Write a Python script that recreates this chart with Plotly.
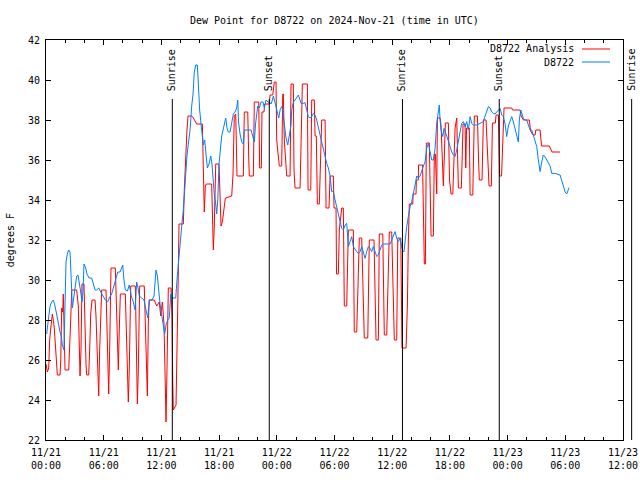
import pandas as pd
import plotly.graph_objects as go

START = pd.Timestamp("2024-11-21 00:00")
END = pd.Timestamp("2024-11-23 12:00")

# ---- data: hours since 2024-11-21 00:00 UTC, dew point in degrees F ----
analysis_hours = [
    0.00, 0.14, 0.28, 0.38, 0.52, 0.66, 0.76, 0.86, 0.97, 1.07, 1.18, 1.46, 1.53, 1.63, 1.74, 1.80,
    1.87, 1.98, 2.36, 2.47, 2.57, 2.67, 3.19, 3.36, 3.46, 3.54, 3.64, 3.74, 3.95, 4.06, 4.16, 4.23,
    4.44, 4.54, 4.65, 4.78, 5.10, 5.20, 5.30, 5.41, 5.48, 5.58, 5.72, 5.79, 6.24, 6.34, 6.45, 6.52,
    6.62, 6.76, 7.21, 7.31, 7.42, 7.52, 7.62, 7.73, 8.25, 8.39, 8.56, 8.66, 8.81, 9.29, 9.39, 9.50,
    9.60, 9.74, 10.22, 10.37, 10.47, 10.54, 10.64, 10.74, 11.26, 11.51, 11.78, 11.93, 12.10, 12.27, 12.38, 12.48,
    12.58, 12.72, 13.00, 13.10, 13.18, 13.24, 13.52, 13.62, 13.73, 13.83, 14.28, 14.38, 14.53, 14.66, 14.77, 15.15,
    15.32, 15.50, 15.67, 16.26, 16.36, 16.46, 16.57, 16.67, 17.23, 17.30, 17.40, 17.50, 17.65, 17.99, 18.10, 18.20,
    18.34, 18.48, 18.65, 19.31, 19.45, 19.58, 19.73, 19.86, 20.52, 20.62, 20.98, 21.08, 21.14, 21.56, 21.66, 22.12,
    22.22, 22.39, 22.46, 22.67, 22.74, 23.22, 23.30, 23.58, 23.74, 23.92, 23.99, 24.26, 24.51, 24.62, 24.68, 24.78,
    25.03, 25.38, 25.48, 25.72, 25.79, 25.90, 26.42, 26.66, 27.18, 27.25, 27.53, 27.63, 27.90, 27.98, 28.11, 28.22,
    28.42, 28.67, 29.02, 29.12, 29.43, 29.54, 29.88, 29.95, 30.16, 30.21, 30.40, 30.50, 30.75, 30.92, 31.02, 31.27,
    31.44, 31.96, 32.06, 32.31, 32.58, 32.83, 33.10, 33.46, 33.62, 34.11, 34.32, 34.56, 34.66, 35.02, 35.18, 35.43,
    35.70, 35.95, 36.22, 36.47, 36.58, 36.89, 37.02, 37.44, 37.58, 37.68, 37.78, 38.14, 38.17, 38.48, 38.51, 38.72,
    38.74, 39.16, 39.24, 39.34, 39.45, 39.55, 39.86, 39.94, 40.04, 40.28, 40.38, 40.49, 40.56, 40.63, 40.70, 40.98,
    41.08, 41.26, 41.32, 41.53, 41.84, 41.96, 42.12, 42.30, 42.54, 42.71, 42.80, 42.88, 43.19, 43.37, 43.58, 43.65,
    43.73, 44.02, 44.10, 44.38, 44.54, 44.86, 44.98, 45.06, 45.34, 45.48, 45.76, 45.92, 46.07, 46.31, 46.42, 46.73,
    46.80, 47.04, 47.16, 47.37, 47.48, 47.63, 48.43, 48.52, 49.30, 49.40, 49.64, 50.26, 50.39, 50.65, 50.86, 50.93,
    51.38, 51.53, 52.34, 52.52, 52.62, 53.46,
]
analysis_values = [
    25.8, 25.4, 25.6, 27.0, 27.7, 28.3, 28.0, 27.6, 26.8, 25.8, 25.25, 25.25, 25.9, 28.6, 28.4, 29.3,
    26.8, 25.5, 25.5, 26.5, 28.0, 29.5, 29.5, 28.7, 25.8, 25.2, 26.5, 29.8, 29.8, 27.0, 25.8, 25.25,
    25.25, 26.5, 28.3, 29.0, 29.0, 28.2, 26.5, 24.8, 24.2, 26.5, 28.2, 29.5, 29.5, 27.0, 25.0, 24.3,
    26.5, 30.6, 30.6, 28.5, 26.8, 25.5, 27.5, 29.3, 29.3, 27.0, 23.9, 25.5, 29.7, 29.7, 26.0, 23.8,
    25.5, 29.7, 29.7, 27.0, 25.2, 24.2, 27.8, 29.0, 29.0, 28.7, 28.9, 28.2, 28.9, 27.8, 25.3, 22.9,
    25.5, 29.6, 29.6, 28.2, 25.0, 23.5, 23.75, 26.0, 29.5, 32.8, 32.8, 34.5, 36.5, 37.5, 38.2, 38.2,
    38.1, 37.9, 37.8, 37.8, 34.8, 33.4, 34.7, 34.8, 34.8, 33.3, 31.5, 32.7, 35.8, 35.8, 34.0, 32.7,
    32.9, 33.5, 34.1, 34.2, 35.3, 38.2, 38.3, 35.2, 35.2, 38.4, 38.4, 36.1, 35.2, 35.2, 38.9, 38.9,
    35.6, 35.6, 38.4, 38.4, 38.8, 38.8, 39.25, 39.25, 39.9, 39.9, 37.0, 35.7, 35.7, 39.3, 39.3, 37.0,
    35.2, 35.2, 39.8, 39.8, 35.5, 34.6, 34.6, 39.8, 39.8, 34.5, 34.5, 39.0, 39.0, 37.2, 37.2, 33.8,
    33.8, 38.0, 38.0, 33.6, 33.6, 35.2, 35.2, 33.6, 33.6, 30.3, 30.3, 32.5, 33.6, 33.6, 28.7, 28.7,
    32.5, 32.5, 27.4, 27.4, 32.1, 32.1, 27.1, 27.1, 32.0, 32.0, 27.0, 27.0, 32.3, 32.3, 27.25, 27.25,
    32.4, 32.4, 27.0, 27.0, 32.1, 32.1, 26.6, 26.6, 28.7, 32.0, 33.8, 33.8, 34.3, 34.3, 35.0, 35.0,
    35.75, 35.75, 33.3, 30.8, 30.8, 36.85, 36.85, 35.0, 32.2, 32.2, 36.3, 36.3, 34.3, 34.3, 38.1, 38.1,
    37.7, 34.7, 34.7, 37.85, 37.85, 35.0, 34.3, 34.3, 37.6, 38.1, 35.0, 34.6, 34.6, 37.8, 37.8, 35.6,
    37.6, 37.6, 34.25, 34.25, 38.2, 38.2, 36.0, 35.0, 35.0, 38.0, 38.0, 36.0, 34.7, 34.7, 37.85, 37.85,
    38.25, 38.25, 35.2, 35.2, 37.0, 38.6, 38.6, 38.5, 38.5, 38.2, 38.0, 38.0, 37.45, 37.25, 37.25, 37.5,
    37.5, 36.7, 36.7, 36.5, 36.4, 36.4,
]

station_hours = [
    0.07, 0.24, 0.42, 0.59, 0.76, 0.94, 1.11, 1.28, 1.46, 1.59, 1.70, 1.87, 1.98, 2.08, 2.22, 2.36,
    2.50, 2.60, 2.67, 2.74, 2.84, 3.02, 3.19, 3.33, 3.46, 3.61, 3.74, 3.85, 3.95, 4.13, 4.26, 4.47,
    4.75, 4.92, 5.10, 5.27, 5.48, 5.69, 5.90, 6.17, 6.42, 6.58, 6.83, 7.07, 7.28, 7.46, 7.70, 7.98,
    8.11, 8.25, 8.46, 8.66, 8.87, 9.08, 9.26, 9.43, 9.57, 9.70, 9.95, 10.19, 10.40, 10.58, 10.74, 11.02,
    11.23, 11.34, 11.44, 11.58, 11.72, 11.86, 12.03, 12.20, 12.34, 12.48, 12.66, 12.82, 12.97, 13.14, 13.49, 13.62,
    13.76, 13.94, 14.11, 14.28, 14.42, 14.53, 14.66, 14.80, 14.98, 15.15, 15.29, 15.42, 15.57, 15.74, 15.84, 15.98,
    16.12, 16.26, 16.36, 16.50, 16.64, 16.78, 16.95, 17.13, 17.26, 17.37, 17.50, 17.65, 17.75, 17.86, 17.99, 18.13,
    18.27, 18.41, 18.54, 18.69, 18.82, 18.96, 19.14, 19.31, 19.48, 19.66, 19.83, 19.94, 20.02, 20.18, 20.35, 20.52,
    20.62, 21.32, 21.46, 21.66, 21.79, 22.02, 22.18, 22.36, 22.57, 22.70, 22.88, 23.09, 23.22, 23.40, 23.54, 23.64,
    23.85, 24.10, 24.20, 24.34, 24.54, 24.68, 24.78, 24.96, 25.14, 25.30, 25.48, 25.55, 25.72, 25.90, 26.07, 26.24,
    26.42, 26.52, 26.76, 26.94, 27.11, 27.28, 27.46, 27.63, 27.80, 27.98, 28.15, 28.32, 28.50, 28.67, 28.84, 29.02,
    29.19, 29.36, 29.54, 29.71, 29.88, 30.06, 30.23, 30.40, 30.58, 30.75, 30.92, 31.10, 31.27, 31.44, 31.62, 31.79,
    31.96, 32.14, 32.31, 32.48, 32.66, 32.83, 33.00, 33.18, 33.35, 33.52, 33.70, 33.87, 34.04, 34.22, 34.39, 34.56,
    34.74, 34.91, 35.08, 35.78, 35.95, 36.12, 36.30, 36.47, 36.64, 36.82, 36.99, 37.10, 37.23, 37.37, 37.51, 37.68,
    37.86, 38.03, 38.20, 38.38, 38.55, 38.72, 38.90, 39.07, 39.24, 39.42, 39.59, 39.76, 39.94, 40.11, 40.28, 40.46,
    40.63, 40.80, 40.90, 40.98, 41.08, 41.26, 41.39, 41.67, 41.84, 42.02, 42.20, 42.36, 42.54, 42.71, 42.88, 43.06,
    43.23, 43.40, 43.58, 43.75, 43.92, 44.10, 44.27, 44.44, 44.79, 45.14, 45.48, 45.66, 45.83, 46.00, 46.18, 46.35,
    46.52, 46.70, 46.87, 47.04, 47.22, 47.39, 47.56, 47.74, 47.91, 48.08, 48.26, 48.43, 48.60, 48.78, 48.95, 49.12,
    49.22, 49.37, 49.50, 49.64, 49.82, 49.99, 50.16, 50.34, 50.51, 50.68, 50.86, 51.03, 51.20, 51.38, 51.55, 51.72,
    51.90, 52.07, 52.24, 52.42, 52.59, 52.94, 53.46, 53.63, 53.80, 53.98, 54.15, 54.26, 54.39,
]
station_values = [
    27.3, 28.1, 28.7, 28.9, 29.0, 28.7, 28.25, 27.8, 27.4, 27.2, 26.75, 26.5, 30.0, 30.9, 31.3, 31.5,
    31.4, 30.6, 29.5, 28.6, 29.0, 29.8, 30.2, 30.25, 29.9, 29.4, 28.9, 29.4, 30.8, 30.6, 30.3, 30.1,
    30.1, 29.75, 29.5, 29.5, 29.6, 29.4, 29.2, 29.0, 28.9, 29.1, 29.3, 29.75, 30.2, 30.4, 30.4, 30.75,
    30.0, 29.5, 29.45, 29.75, 29.2, 28.9, 28.5, 29.9, 29.6, 29.2, 29.1, 29.0, 28.5, 28.1, 29.0, 29.0,
    29.2, 29.75, 30.5, 30.2, 29.4, 28.8, 28.25, 27.75, 27.3, 27.75, 28.0, 28.1, 29.3, 29.1, 29.1, 30.0,
    30.9, 32.0, 32.7, 33.5, 34.5, 35.5, 36.2, 36.8, 37.5, 38.7, 39.3, 40.4, 40.75, 40.75, 39.5, 38.5,
    37.8, 37.1, 36.75, 37.0, 36.2, 35.6, 35.8, 36.2, 35.8, 35.0, 34.3, 33.8, 33.3, 34.0, 35.8, 36.5,
    37.2, 37.5, 37.8, 38.1, 37.6, 37.4, 37.4, 37.8, 38.3, 38.4, 38.6, 39.0, 37.9, 37.3, 36.9, 36.8,
    37.5, 37.5, 37.2, 36.9, 37.8, 38.7, 38.6, 38.9, 38.9, 38.6, 39.0, 38.9, 38.9, 38.8, 39.0, 39.2,
    38.8, 38.3, 38.1, 38.5, 38.7, 38.2, 37.7, 37.1, 36.75, 37.2, 37.75, 38.5, 38.9, 39.0, 39.1, 39.25,
    39.0, 38.83, 38.83, 38.87, 38.5, 38.17, 38.1, 38.17, 38.33, 38.25, 38.0, 37.7, 37.25, 36.9, 36.5, 36.2,
    35.83, 35.6, 35.2, 34.42, 34.42, 34.0, 33.67, 33.33, 33.0, 32.58, 32.5, 32.75, 32.83, 31.67, 31.92, 32.17,
    31.67, 31.5, 31.42, 31.33, 31.42, 31.67, 31.33, 31.08, 31.42, 31.67, 31.58, 31.42, 31.67, 31.42, 31.17, 31.25,
    31.5, 31.75, 31.8, 31.8, 32.0, 32.25, 32.42, 32.08, 31.92, 32.08, 31.67, 31.42, 31.42, 32.17, 32.67, 33.17,
    33.67, 33.92, 34.25, 34.75, 35.2, 35.1, 35.2, 35.5, 35.7, 35.9, 36.6, 36.83, 36.4, 36.0, 36.0, 36.58,
    37.83, 38.4, 38.75, 38.0, 37.5, 37.17, 37.58, 37.2, 36.92, 36.58, 36.4, 36.25, 36.17, 36.5, 36.92, 37.4,
    37.83, 37.92, 37.67, 37.92, 37.5, 38.17, 37.83, 37.75, 37.75, 37.83, 37.92, 38.2, 38.5, 38.67, 38.6, 38.4,
    38.33, 38.3, 38.4, 38.5, 38.58, 38.25, 38.17, 37.8, 37.17, 37.7, 38.0, 38.17, 37.9, 37.5, 37.17, 36.9,
    38.0, 38.5, 38.3, 38.08, 38.0, 38.0, 37.75, 37.5, 37.5, 37.25, 37.0, 36.67, 36.0, 35.42, 35.9, 36.25,
    36.15, 36.0, 35.83, 35.7, 35.33, 35.33, 35.25, 35.0, 34.67, 34.4, 34.3, 34.5, 34.62,
]

sun_labels = ["Sunrise", "Sunset", "Sunrise", "Sunset", "Sunrise"]
sun_times = ["2024-11-21 13:08", "2024-11-21 23:13", "2024-11-22 13:04",
             "2024-11-22 23:08", "2024-11-23 12:54"]

series_names = ["D8722 Analysis", "D8722"]
series_colors = ["#ff0000", "#0080ff"]

assert len(analysis_hours) == len(analysis_values), (len(analysis_hours), len(analysis_values))
assert len(station_hours) == len(station_values), (len(station_hours), len(station_values))


def to_time(hours):
    return START + pd.to_timedelta(hours, unit="h")


FONT = "DejaVu Sans Mono"

fig = go.Figure()
for name, hrs, vals, col in [
    (series_names[0], analysis_hours, analysis_values, series_colors[0]),
    (series_names[1], station_hours, station_values, series_colors[1]),
]:
    fig.add_trace(go.Scatter(x=to_time(hrs), y=vals, mode="lines", name=name,
                             line=dict(color=col, width=1), showlegend=False))

span = (END - START).total_seconds()
line_top = 0.8525
shapes = []
annotations = []
for lab, t in zip(sun_labels, sun_times):
    px = (pd.Timestamp(t) - START).total_seconds() / span
    shapes.append(dict(type="line", xref="paper", yref="paper", x0=px, x1=px,
                       y0=0, y1=line_top, line=dict(color="black", width=1), layer="above"))
    annotations.append(dict(xref="paper", yref="paper", x=px, y=line_top + 0.015,
                            text=lab, textangle=-90, showarrow=False,
                            xanchor="center", yanchor="bottom",
                            font=dict(family=FONT, size=10, color="black")))

# gnuplot-style key: text on the left, line sample on the right
key_y = [0.9775, 0.945]
for name, col, ky in zip(series_names, series_colors, key_y):
    annotations.append(dict(xref="paper", yref="paper", x=0.918, y=ky, text=name,
                            showarrow=False, xanchor="right", yanchor="middle",
                            font=dict(family=FONT, size=10, color="black")))
    shapes.append(dict(type="line", xref="paper", yref="paper", x0=0.929, x1=0.9775,
                       y0=ky, y1=ky, line=dict(color=col, width=1)))

annotations.append(dict(xref="paper", yref="paper", x=-0.062, y=0.5, text="degrees F",
                        textangle=-90, showarrow=False, xanchor="center", yanchor="middle",
                        font=dict(family=FONT, size=10, color="black")))

fig.update_layout(
    width=640, height=480, autosize=False,
    margin=dict(l=46, r=17, t=40, b=40, autoexpand=False),
    paper_bgcolor="white", plot_bgcolor="white",
    font=dict(family=FONT, size=10, color="black"),
    title=dict(text="Dew Point for D8722 on 2024-Nov-21 (time in UTC)", x=0.5225, xanchor="center",
               y=0.958, yanchor="middle", font=dict(family=FONT, size=10, color="black")),
    shapes=shapes, annotations=annotations,
)
fig.update_xaxes(
    type="date", range=[START, END], dtick=6 * 3600 * 1000, tick0=START,
    tickformat="%m/%d<br>%H:%M", ticks="inside", ticklen=5, tickcolor="black",
    showline=True, linecolor="black", linewidth=1, mirror="ticks", showgrid=False, zeroline=False,
    automargin=False, ticklabelstandoff=3,
    minor=dict(dtick=2 * 3600 * 1000, ticks="inside", ticklen=3, tickcolor="black", showgrid=False),
    tickfont=dict(family=FONT, size=10, color="black"),
)
fig.update_yaxes(
    range=[22, 42], dtick=2, tick0=22, ticks="inside", ticklen=5, tickcolor="black",
    showline=True, linecolor="black", linewidth=1, mirror="ticks", showgrid=False, zeroline=False,
    automargin=False, ticklabelstandoff=3,
    tickfont=dict(family=FONT, size=10, color="black"),
)

fig.write_html(
    "out.html",
    config={"responsive": False, "displayModeBar": False},
    post_script="document.body.style.margin='0';document.body.style.overflow='hidden';"
                "Plotly.relayout('{plot_id}', {width: 640, height: 480});",
)
